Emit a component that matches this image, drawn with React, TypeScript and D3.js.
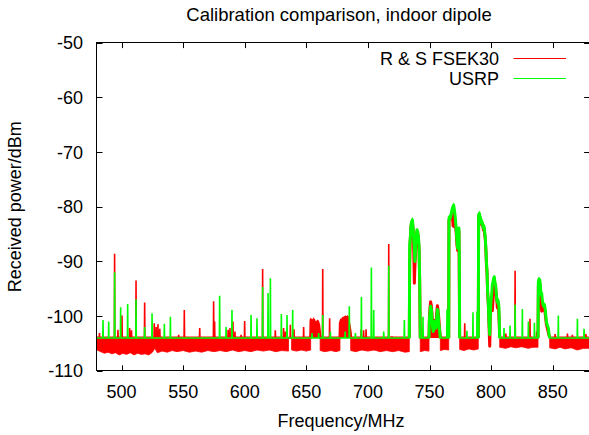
import * as d3 from "d3"

const xTicks = [500, 550, 600, 650, 700, 750, 800, 850]
const yTicks = [-50, -60, -70, -80, -90, -100, -110]

// narrow carriers, [MHz, dBm]
const fsekSpikes: [number, number][] = [
  [482, -103.1], [494.3, -88.6], [497, -102.5], [500.3, -99.9], [506.5, -102.2], [508, -102.6],
  [511.7, -93.5], [518.7, -97.5], [526.5, -101.3], [528, -102.0], [529.5, -101.5], [531, -102.3],
  [546.3, -103.4], [550.9, -98.9], [563.4, -102.2], [574.7, -97.3], [575.5, -101], [586.5, -102.5],
  [588, -102.2], [590.4, -101], [592, -102.8], [597, -103.4], [599.9, -100.9], [614.5, -91.4],
  [624.8, -102.6], [631.5, -102.2], [633, -102.8], [637, -101.6], [640, -102.4], [647.8, -102],
  [663.3, -91.4], [668.9, -100.4], [694.5, -102.4], [696.5, -102.6], [698.5, -102.4], [716.9, -86.8],
  [719.5, -103.7], [778.6, -101.3], [812, -103.2], [819.5, -91.7], [831.6, -100.5], [837, -102.8],
  [852, -103.3], [862, -103.2], [866, -103.4], [877, -103.3],
]

const usrpSpikes: [number, number][] = [
  [484.9, -100.7], [489.5, -101], [494.3, -92.0], [499.2, -98.4], [504.9, -97.8], [511.7, -96.9],
  [518.7, -102], [524.7, -99.5], [534.7, -101.4], [539.6, -100.1], [579.6, -96.3], [584.8, -102],
  [589.6, -98.9], [605.1, -99.8], [609.9, -100.4], [614.5, -94.7], [618.9, -95.8], [620.8, -93.1],
  [629.7, -99.6], [634.3, -99.8], [638.9, -98.9], [654.6, -103.1], [660, -103.1], [663.3, -99.8],
  [669.5, -102.8], [681.5, -102.8], [684.9, -98.2], [689.8, -103.1], [694.7, -96.5], [702.8, -91.1],
  [704.7, -98.9], [712.8, -102.8], [716.9, -90.8], [729.6, -100.7], [744.7, -100.1], [764.2, -98.8],
  [780.4, -102.7], [785.3, -99.3], [788.6, -99.1], [810.5, -102.2], [815.4, -101.7], [819.5, -97.9],
  [825.4, -98.7], [830.3, -101], [835.2, -101.2], [854.6, -99.9], [870.1, -100.5], [875.5, -102.3],
]

// wideband signals (TV channels), FSEK30
const fsek735: [number, number][] = [
  [733.6, -104], [733.9, -90.6], [734.4, -86], [735, -83.6], [735.5, -83], [736.1, -82.8], [736.6, -84],
  [737.1, -86.5], [737.7, -94], [738.2, -90.5], [738.8, -87.5], [739.3, -86], [739.8, -84.6],
  [740.4, -84.8], [740.9, -85.8], [741.5, -88], [742, -93.5], [742.5, -104],
]
const fsek754: [number, number][] = [
  [749.6, -104], [749.9, -100.5], [750.4, -98.5], [750.9, -97.4], [751.5, -98.1], [752, -99.5],
  [752.6, -101.5], [753.1, -102.6], [753.6, -102], [754.2, -100.8], [755.3, -101.5], [755.8, -99.5],
  [756.4, -98.1], [756.9, -98.8], [757.4, -100], [758, -101.8], [758.8, -104],
]
const fsek770: [number, number][] = [
  [765.6, -104], [765.8, -82.5], [766.4, -82.3], [767.5, -82], [768.5, -81], [769.1, -83.5],
  [769.6, -83.6], [770.2, -81.5], [771.2, -83.5], [771.8, -85.2], [772.3, -87], [772.9, -88],
  [773.4, -86], [773.9, -84.5], [774.5, -104],
]
const fsek794: [number, number][] = [
  [789.6, -104], [789.9, -82], [790.5, -81.4], [791, -82.2], [791.5, -82.5], [792.1, -83.2],
  [792.6, -83], [793.2, -83.3], [793.7, -84.2], [794.3, -84], [794.8, -85], [795.3, -86],
  [795.9, -88.5], [796.2, -90.5], [796.7, -92], [797.2, -95.8], [797.8, -98], [798.3, -101.5],
  [798.9, -105.5], [799.4, -100], [799.9, -97.5], [800.5, -98.5], [801, -99], [801.6, -97],
  [802.1, -94], [802.6, -93.3], [803.2, -94.2], [803.7, -95], [804.3, -96.5], [804.8, -97.5],
  [805.1, -98.5], [805.9, -97.8], [806.4, -100], [807, -104],
]
const fsek842: [number, number][] = [
  [838.1, -104], [838.4, -94.5], [839, -93.8], [839.5, -94], [840, -98.5], [840.6, -97],
  [841.1, -99.1], [841.7, -98], [842.7, -98.8], [843.8, -99.2], [844.9, -101.5], [846, -102.5],
  [847.6, -104],
]
const fsek657: [number, number][] = [
  [653.5, -104], [653.8, -100.7], [654.6, -101], [655.4, -101.3], [656, -100.7], [656.8, -101.3],
  [657.6, -101.2], [658.4, -101.4], [659.2, -101], [660, -101.6], [660.8, -103.1], [661.2, -104],
]
const fsek682: [number, number][] = [
  [677.3, -104], [677.6, -101.3], [678.4, -100.7], [679.2, -101], [680, -100.4], [680.9, -100.7],
  [681.7, -100.2], [682.5, -100.6], [683.3, -100.2], [684.1, -101], [684.9, -101.9], [685.7, -103.1],
  [686, -104],
]

// wideband signals, USRP
const usrp735: [number, number][] = [
  [733.6, -104], [733.9, -87], [734.4, -85.7], [735, -83.3], [735.5, -82.7], [736.1, -82.4],
  [736.6, -83.6], [737.1, -85.7], [737.7, -87.6], [738.2, -90], [738.8, -87], [739.3, -85.7],
  [739.8, -84.2], [740.4, -84.5], [740.9, -85.4], [741.5, -87], [742, -93.1], [742.5, -104],
]
const usrp754: [number, number][] = [
  [749.6, -104], [749.9, -101], [750.4, -99.1], [750.9, -98.2], [751.5, -98.8], [752, -100.4],
  [752.6, -102.2], [753.1, -102.8], [753.6, -101.9], [754.2, -101], [754.7, -101.6], [755.3, -102.2],
  [755.8, -100.4], [756.4, -98.8], [756.9, -99.1], [757.4, -101], [758, -102.2], [758.5, -103.4],
  [758.8, -104],
]
const usrp770: [number, number][] = [
  [765.6, -104], [765.8, -82.1], [766.4, -81.8], [766.9, -82.1], [767.5, -81.5], [768, -80.9],
  [768.5, -80.3], [769.1, -80], [769.6, -79.7], [770.2, -80.6], [770.7, -81.5], [771.2, -82.7],
  [771.8, -84.5], [772.3, -86.4], [772.9, -87.6], [773.4, -85.1], [773.9, -83.9], [774.2, -88.8],
  [774.5, -104],
]
const usrp794: [number, number][] = [
  [789.6, -104], [789.9, -81.5], [790.5, -81.2], [791, -81.8], [791.5, -82.1], [792.1, -83],
  [792.6, -82.7], [793.2, -83.3], [793.7, -83.9], [794.3, -83.6], [794.8, -84.5], [795.3, -85.7],
  [795.9, -88.2], [796.2, -90], [796.7, -91.8], [797.2, -95.5], [797.8, -97.9], [798.3, -101],
  [798.9, -103.4], [799.4, -99.8], [799.9, -97.3], [800.5, -96.1], [801, -94.3], [801.6, -93.7],
  [802.1, -93.1], [802.6, -92.8], [803.2, -94], [803.7, -94.3], [804.3, -96.1], [804.8, -97.3],
  [805.4, -97], [805.9, -97.3], [806.4, -98.5], [807, -104],
]
const usrp842: [number, number][] = [
  [838.1, -104], [838.4, -93.7], [839, -93.2], [839.5, -93.4], [840, -94.3], [840.6, -96.1],
  [841.1, -95.8], [841.7, -97.3], [842.2, -97.9], [842.7, -98.2], [843.3, -97.9], [843.8, -98.5],
  [844.4, -99.8], [844.9, -101], [845.5, -101.6], [846, -101.9], [846.5, -102.2], [847.1, -103.4],
  [847.6, -104],
]

// FSEK30 noise floor: lower edge of the band, per stretch without a strong signal
const fsekFloor: [number, number][][] = [
  [[480, -106.2], [483, -106.5], [486, -106.8], [489, -106.6], [492, -106.9], [495, -106.7],
    [498, -107.1], [501, -106.8], [504, -107], [507, -106.7], [510, -107.1], [513, -106.8],
    [516, -107], [519, -106.9], [522, -107.1], [525, -106.6], [527, -105.9], [529, -106.7],
    [533, -106.4], [537, -106.6], [541, -106.3], [545, -106.5], [550, -106.3], [555, -106.6],
    [560, -106.4], [565, -106.6], [570, -106.3], [575, -106.5], [580, -106.3], [585, -106.5],
    [590, -106.2], [595, -106.5], [600, -106.3], [605, -106.5], [610, -106.2], [615, -106.4],
    [620, -106.2], [625, -106.5], [630, -106.3], [635.5, -106.4]],
  [[638, -106.2], [642, -106.4], [646, -106.2], [650, -106.4], [653.5, -106.2]],
  [[661.2, -106.3], [665, -106.5], [670, -106.3], [674, -106.5], [677.3, -106.3]],
  [[686, -106.3], [690, -106.5], [695, -106.2], [700, -106.4], [705, -106.2], [710, -106.5],
    [715, -106.3], [720, -106.5], [725, -106.3], [730, -106.6], [733.6, -106.5]],
  [[742.5, -106.5], [746, -106.3], [749.6, -106.4]],
  [[758.8, -106.3], [762, -106.1], [765.6, -106.2]],
  [[774.5, -106.1], [778, -106.3], [782, -106], [786, -106.2], [789.6, -106.0]],
  [[807, -105.7], [812, -105.9], [816, -105.6], [820, -105.8], [825, -105.6], [830, -105.9],
    [834, -105.7], [838.1, -105.7]],
  [[847.6, -105.8], [852, -106], [856, -105.7], [860, -106], [865, -105.8], [870, -106.2],
    [875, -105.9], [880, -105.9]],
]

const W = 589
const H = 435
const x = d3.scaleLinear().domain([480, 880]).range([97, 589.6])
const y = d3.scaleLinear().domain([-110, -50]).range([370.8, 42.6])
const BASE = -104
const FLOOR_TOP = -103.8

function trace(spikes: [number, number][], humps: [number, number][][]) {
  const events = [
    ...spikes.map(([f, v]) => ({ start: f, pts: [[f - 0.2, BASE], [f, v], [f + 0.2, BASE]] as [number, number][] })),
    ...humps.map((h) => ({ start: h[0][0], pts: h })),
  ].sort((a, b) => a.start - b.start)
  const pts: [number, number][] = [[480, BASE]]
  events.forEach((e) => pts.push(...e.pts))
  pts.push([880, BASE])
  return pts
}

const line = d3.line<[number, number]>().x((d) => x(d[0])).y((d) => y(d[1]))
const floorArea = d3
  .area<[number, number]>()
  .x((d) => x(d[0]))
  .y0((d) => y(d[1]))
  .y1(() => y(FLOOR_TOP))
const humpArea = d3
  .area<[number, number]>()
  .x((d) => x(d[0]))
  .y0(() => y(BASE))
  .y1((d) => y(d[1]))

const fsekHumps = [fsek657, fsek682, fsek735, fsek754, fsek770, fsek794, fsek842]
const usrpHumps = [usrp735, usrp754, usrp770, usrp794, usrp842]
const RED = "#ff0000"
const GREEN = "#00ff00"
const font = "'Liberation Sans', Arial, Helvetica, sans-serif"

export default function App() {
  const left = x.range()[0]
  const right = x.range()[1]
  const top = y.range()[1]
  const bottom = y.range()[0]
  return (
    <svg width={W} height={H} style={{ position: "absolute", left: 0, top: 0, background: "#fff" }} fontFamily={font}>
      <defs>
        <clipPath id="plot">
          <rect x={left} y={top} width={right - left} height={bottom - top} />
        </clipPath>
      </defs>
      <rect width={W} height={H} fill="#fff" />
      <text x={339} y={20.5} fontSize={18.5} textAnchor="middle" fill="#000">
        Calibration comparison, indoor dipole
      </text>

      <g clipPath="url(#plot)">
        {/* R & S FSEK30 */}
        {fsekFloor.map((seg, i) => (
          <path key={i} d={floorArea(seg) || ""} fill={RED} stroke={RED} strokeWidth={0.8} />
        ))}
        {[fsek657, fsek682, fsek754].map((h, i) => (
          <path key={i} d={humpArea(h) || ""} fill={RED} />
        ))}
        <path d={line(trace(fsekSpikes, fsekHumps)) || ""} fill="none" stroke={RED} strokeWidth={1.6} />
        {fsekHumps.map((h, i) => (
          <path key={i} d={line(h) || ""} fill="none" stroke={RED} strokeWidth={3} strokeLinejoin="round" />
        ))}
        {/* USRP */}
        <path d={line(trace(usrpSpikes, usrpHumps)) || ""} fill="none" stroke={GREEN} strokeWidth={1.6} />
        {usrpHumps.map((h, i) => (
          <path key={i} d={line(h) || ""} fill="none" stroke={GREEN} strokeWidth={3} strokeLinejoin="round" />
        ))}
      </g>

      {/* ticks */}
      <g stroke="#000" strokeWidth={1}>
        {yTicks.map((t) => (
          <g key={t}>
            <line x1={left} x2={left + 5.5} y1={Math.round(y(t)) + 0.5} y2={Math.round(y(t)) + 0.5} />
            <line x1={right} x2={right - 5.5} y1={Math.round(y(t)) + 0.5} y2={Math.round(y(t)) + 0.5} />
          </g>
        ))}
        {xTicks.map((t) => (
          <g key={t}>
            <line x1={Math.round(x(t)) + 0.5} x2={Math.round(x(t)) + 0.5} y1={bottom} y2={bottom - 5.5} />
            <line x1={Math.round(x(t)) + 0.5} x2={Math.round(x(t)) + 0.5} y1={top} y2={top + 5.5} />
          </g>
        ))}
        <rect x={96.5} y={42.5} width={right - 96.5} height={370.5 - 42.5} fill="none" />
      </g>

      <g fontSize={18} fill="#000">
        {yTicks.map((t) => (
          <text key={t} x={83} y={y(t) + 6.5} textAnchor="end">
            {t}
          </text>
        ))}
        {xTicks.map((t) => (
          <text key={t} x={x(t)} y={398.3} textAnchor="middle">
            {t}
          </text>
        ))}
        <text x={341} y={426.5} textAnchor="middle">
          Frequency/MHz
        </text>
        <text transform={`translate(21, ${(top + bottom) / 2}) rotate(-90)`} textAnchor="middle">
          Received power/dBm
        </text>
      </g>

      {/* legend */}
      <g fontSize={18} fill="#000">
        <text x={499} y={65} textAnchor="end">
          R &amp; S FSEK30
        </text>
        <line x1={513.5} x2={566} y1={58.5} y2={58.5} stroke={RED} strokeWidth={1} />
        <text x={499} y={85} textAnchor="end">
          USRP
        </text>
        <line x1={513.5} x2={566} y1={78.5} y2={78.5} stroke={GREEN} strokeWidth={1} />
      </g>
    </svg>
  )
}
